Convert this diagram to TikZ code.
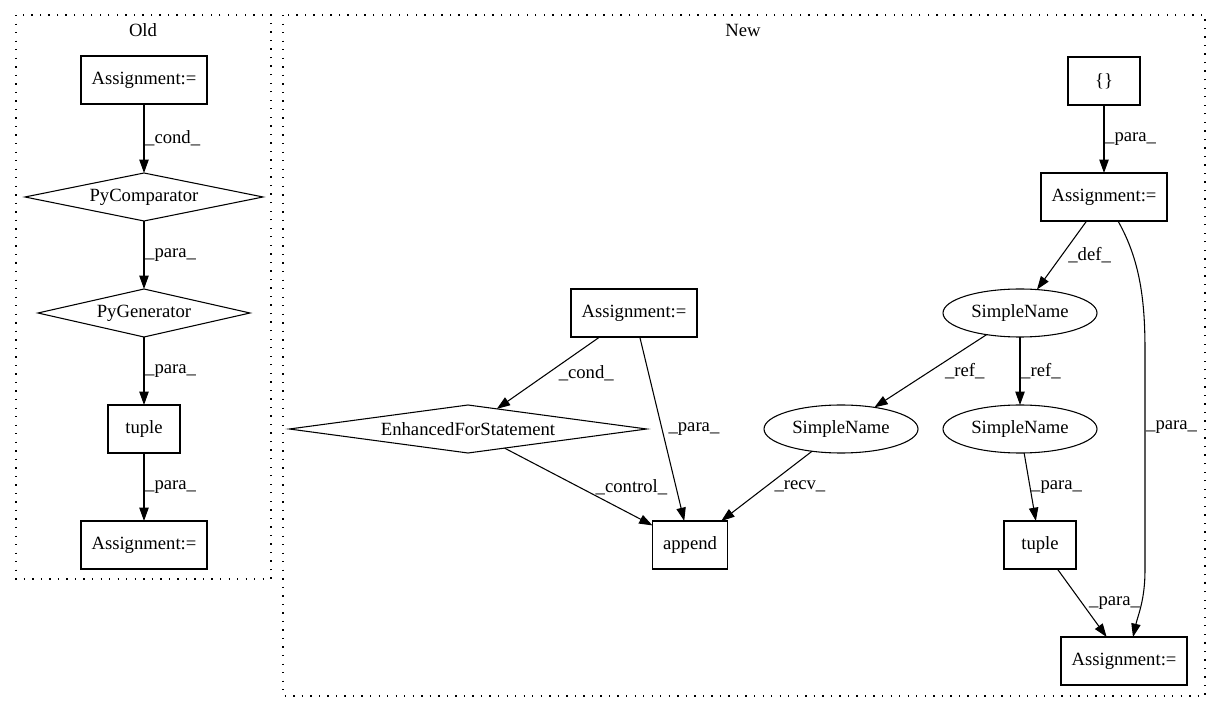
\documentclass[tikz,border=0pt]{standalone}
\usepackage{fontspec}
\setmainfont{Liberation Serif}
\usetikzlibrary{arrows.meta}
\usetikzlibrary{shapes.geometric}
\usetikzlibrary{calc}

\begin{document}
\begin{tikzpicture}[x=0.75pt, y=-0.75pt, >={Triangle[length=10pt,width=7pt]},
    every node/.style={font=\fontsize{14}{16}\selectfont},
    box/.style={draw, rectangle, minimum width=54pt, minimum height=36pt, inner sep=0pt, outer sep=0pt, line width=0.8pt},
    asg/.style={box, minimum width=94.5pt},
    cmp/.style={draw, diamond, shape aspect=6, minimum height=36pt, inner sep=0pt, outer sep=0pt, line width=0.8pt},
    sname/.style={draw, ellipse, minimum width=115.5pt, minimum height=36pt, inner sep=0pt, outer sep=0pt, line width=0.8pt},
    arr/.style={->, line width=0.8pt},
    lbl/.style={midway, right, inner sep=0.5pt},
    cluster/.style={dash pattern=on 1pt off 5.4pt, line width=1pt}]

    \useasboundingbox (0,0) rectangle (1221,712);

    \draw[cluster] (16,15) rectangle (271,579);
    \draw[cluster] (283,15) rectangle (1205,696);
    \node (old) at (143,30) {Old};
    \node (new) at (743,30) {New};

    \node[asg] (oasg) at (144,80) {Assignment:=};
    \node[cmp, minimum width=178.5pt] (ocmp) at (144,197) {PyComparator};
    \node[cmp, minimum width=159pt] (ogen) at (144,313) {PyGenerator};
    \node[box] (otup) at (144,429) {tuple};
    \node[asg] (oasgb) at (144,545) {Assignment:=};

    \draw[arr] (oasg) -- node[lbl]{\_cond\_} (ocmp);
    \draw[arr] (ocmp) -- node[lbl]{\_para\_} (ogen);
    \draw[arr] (ogen) -- node[lbl]{\_para\_} (otup);
    \draw[arr] (otup) -- node[lbl]{\_para\_} (oasgb);

    \node[box] (brace) at (1104,81) {\{\}};
    \node[asg] (nasg) at (1104,197) {Assignment:=};
    \node[sname] (sn) at (1020,313) {SimpleName};
    \node[sname] (snl) at (841,429) {SimpleName};
    \node[sname] (snr) at (1020,429) {SimpleName};
    \node[box] (ntup) at (1040,545) {tuple};
    \node[asg] (nasgb) at (1124,661) {Assignment:=};
    \node[asg] (masg) at (634,313) {Assignment:=};
    \node[cmp, minimum width=268pt] (efor) at (468,429) {EnhancedForStatement};
    \node[box, minimum width=56.25pt] (app) at (690,545) {append};

    \draw[arr] (brace) -- node[lbl]{\_para\_} (nasg);
    \draw[arr] (nasg) -- node[lbl, xshift=4pt]{\_def\_} (sn);
    \draw[arr] (sn) -- node[lbl, xshift=10pt]{\_ref\_} (snl);
    \draw[arr] (sn) -- node[lbl]{\_ref\_} (snr);
    \draw[arr] (snr) -- node[lbl]{\_para\_} (ntup);
    \draw[arr] (ntup) -- node[lbl, xshift=4.5pt]{\_para\_} (nasgb);
    \draw[arr] ($(nasg.south)+(14,0)$) .. controls (1140,260) and (1145,300) .. (1145,350)
        -- node[lbl, pos=0.35]{\_para\_} (1145,570) .. controls (1145,600) and (1138,615) .. ($(nasgb.north)+(9,0)$);
    \draw[arr] (masg) -- node[lbl, xshift=7pt]{\_cond\_} (efor);
    \draw[arr] (masg) -- node[lbl, xshift=4pt]{\_para\_} (app);
    \draw[arr] (efor) -- node[lbl, xshift=12pt]{\_control\_} (app);
    \draw[arr] (snl) -- node[lbl, xshift=5pt]{\_recv\_} (app);
\end{tikzpicture}
\end{document}
